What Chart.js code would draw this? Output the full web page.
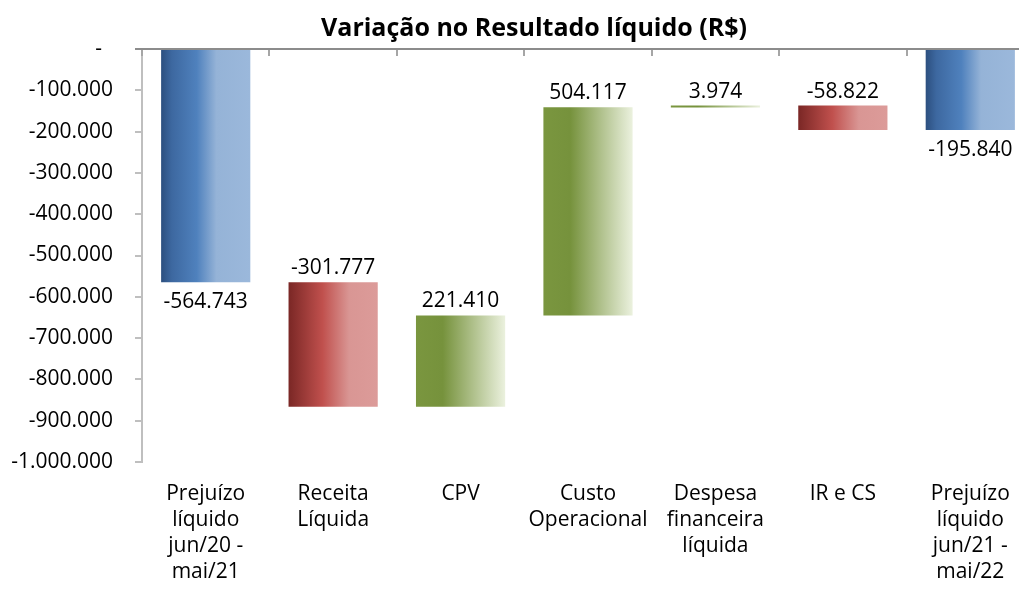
<!DOCTYPE html>
<html>
<head>
<meta charset="utf-8">
<script src="https://cdn.jsdelivr.net/npm/chart.js@4"></script>
<style>
  html, body { margin: 0; padding: 0; background: #ffffff; overflow: hidden; }
  #wrap { width: 1068px; height: 590px; }
</style>
</head>
<body>
<div id="wrap"><canvas id="c" width="1068" height="590"></canvas></div>
<script>
// ---- data ----
const titleText = 'Variação no Resultado líquido (R$)';
const categories = [
  ['Prejuízo', 'líquido', 'jun/20 -', 'mai/21'],
  ['Receita', 'Líquida'],
  ['CPV'],
  ['Custo', 'Operacional'],
  ['Despesa', 'financeira', 'líquida'],
  ['IR e CS'],
  ['Prejuízo', 'líquido', 'jun/21 -', 'mai/22']
];
const values = [-564743, -301777, 221410, 504117, 3974, -58822, -195840];
const kinds = ['total', 'delta', 'delta', 'delta', 'delta', 'delta', 'total'];
const yMin = -1000000;
const yMax = 0;
const yStep = 100000;

// ---- build floating bars from the values ----
const floating = [];
let running = 0;
values.forEach((v, i) => {
  if (kinds[i] === 'total') {
    floating.push([0, v]);
    running = v;
  } else {
    floating.push([running, running + v]);
    running += v;
  }
});

function fmt(n) {
  const s = Math.abs(Math.round(n)).toString().replace(/\B(?=(\d{3})+(?!\d))/g, '.');
  return (n < 0 ? '-' : '') + s;
}

const gradStops = {
  blue: [[0, '#2c4f7f'], [0.12, '#3d68a0'], [0.4, '#4f81bd'], [0.62, '#95b3d7'], [1, '#9bb8db']],
  red: [[0, '#7a2725'], [0.38, '#c0504d'], [0.68, '#d99694'], [1, '#dc9b99']],
  green: [[0, '#7a963f'], [0.3, '#76923c'], [1, '#ebf1de']]
};
function colorKey(i) {
  if (kinds[i] === 'total') return 'blue';
  return values[i] < 0 ? 'red' : 'green';
}
const solid = { blue: '#4f81bd', red: '#c0504d', green: '#9bbb59' };

const FONT = '"Open Sans", "Noto Sans", sans-serif';
const FS = 21;

const topAxisPlugin = {
  id: 'topAxis',
  afterDatasetsDraw(chart) {
    const { ctx, chartArea } = chart;
    const ys = chart.scales.y;
    const y0 = Math.round(ys.getPixelForValue(0));
    const n = categories.length;
    const w = (chartArea.right - chartArea.left) / n;
    ctx.save();
    ctx.strokeStyle = '#a6a6a6';
    ctx.lineWidth = 2;
    for (let i = 0; i <= n; i++) {
      const x = Math.round(chartArea.left + i * w);
      ctx.beginPath();
      ctx.moveTo(x, y0);
      ctx.lineTo(x, y0 + 7);
      ctx.stroke();
    }
    ctx.strokeStyle = '#8c8c8c';
    ctx.beginPath();
    ctx.moveTo(chartArea.left - 7, y0);
    ctx.lineTo(chartArea.right, y0);
    ctx.stroke();
    ctx.restore();
  }
};

const labelPlugin = {
  id: 'barLabels',
  afterDatasetsDraw(chart) {
    const { ctx } = chart;
    const meta = chart.getDatasetMeta(0);
    ctx.save();
    ctx.font = FS + 'px ' + FONT;
    ctx.fillStyle = '#000000';
    ctx.textAlign = 'center';
    ctx.textBaseline = 'middle';
    meta.data.forEach((bar, i) => {
      const [a, b] = floating[i];
      const yTop = chart.scales.y.getPixelForValue(Math.max(a, b));
      const yBot = chart.scales.y.getPixelForValue(Math.min(a, b));
      const text = fmt(values[i]);
      if (kinds[i] === 'total') {
        ctx.fillText(text, bar.x, yBot + 20);
      } else {
        ctx.fillText(text, bar.x, yTop - 14);
      }
    });
    ctx.restore();
  }
};

new Chart(document.getElementById('c'), {
  type: 'bar',
  data: {
    labels: categories,
    datasets: [{
      data: floating,
      barPercentage: 0.7,
      categoryPercentage: 1.0,
      borderWidth: 0,
      minBarLength: 2,
      backgroundColor(context) {
        const chart = context.chart;
        const i = context.dataIndex;
        const key = colorKey(i);
        const area = chart.chartArea;
        const xs = chart.scales.x;
        if (!area || !xs || i === undefined) return solid[key];
        const cw = (area.right - area.left) / categories.length;
        const bw = cw * 0.7;
        const cx = xs.getPixelForValue(i);
        const g = chart.ctx.createLinearGradient(cx - bw / 2, 0, cx + bw / 2, 0);
        gradStops[key].forEach(([p, c]) => g.addColorStop(p, c));
        return g;
      }
    }]
  },
  options: {
    responsive: false,
    devicePixelRatio: 1,
    animation: false,
    layout: { padding: { left: 0, right: 0, top: 0, bottom: 0 } },
    plugins: {
      legend: { display: false },
      tooltip: { enabled: false },
      title: {
        display: true,
        text: titleText,
        color: '#000000',
        font: { family: FONT, size: 25, weight: 'bold', lineHeight: 1.2 },
        padding: { top: 14, bottom: 5 }
      }
    },
    scales: {
      x: {
        grid: { display: false },
        border: { display: false },
        afterFit(s) { s.height = 128; },
        ticks: {
          color: '#000000',
          font: { family: FONT, size: FS, lineHeight: 1.24 },
          padding: 11,
          maxRotation: 0,
          autoSkip: false
        }
      },
      y: {
        min: yMin,
        max: yMax,
        afterFit(s) { s.width = 142; },
        border: { display: true, color: '#bfbfbf', width: 2 },
        grid: { drawOnChartArea: false, drawTicks: true, tickLength: 7, color: '#bfbfbf', lineWidth: 2 },
        ticks: {
          stepSize: yStep,
          color: '#000000',
          padding: 22,
          font: { family: FONT, size: FS },
          callback(v) { return v === 0 ? '-  ' : fmt(v); }
        }
      },
      yRight: {
        position: 'right',
        min: yMin,
        max: yMax,
        afterFit(s) { s.width = 34; },
        border: { display: false },
        grid: { display: false },
        ticks: { display: false }
      }
    }
  },
  plugins: [topAxisPlugin, labelPlugin]
});
</script>
</body>
</html>
